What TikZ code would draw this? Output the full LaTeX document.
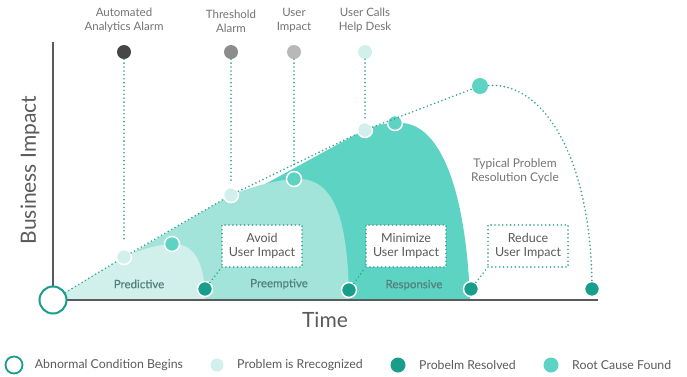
\documentclass[tikz,border=0pt]{standalone}
\usepackage{fontspec}
\setmainfont{Lato}
\newfontfamily\zonefont{Lato}[FakeBold=0.5]
\usetikzlibrary{positioning}
\definecolor{tealdark}{HTML}{1A9E8C}
\definecolor{tealmid}{HTML}{5DD3C3}
\definecolor{teallight}{HTML}{A3E4DA}
\definecolor{tealpale}{HTML}{D2F0EB}
\definecolor{guidecol}{HTML}{35A493}
\definecolor{textgray}{HTML}{5A5A5A}
\definecolor{zonetext}{HTML}{52827D}
\begin{document}
\begin{tikzpicture}[x=1pt, y=-1pt,
    guide/.style={guidecol, line width=1.8pt, line cap=round, dash pattern=on 0pt off 3.9pt},
    dotnode/.style={circle, inner sep=0pt, minimum size=15pt, draw=white, line width=1.5pt},
    topdot/.style={circle, inner sep=0pt, minimum size=14pt},
    toplabel/.style={align=center, font=\fontsize{11.5}{14}\selectfont, text=textgray!85, inner sep=0pt},
    hintbox/.style={draw=guidecol, line width=1.8pt, line cap=round, dash pattern=on 0pt off 3.9pt,
        fill=white, align=center, minimum width=80pt, minimum height=42pt,
        font=\fontsize{12.5}{14.5}\selectfont, text=textgray, inner sep=0pt},
    zone/.style={font=\zonefont\fontsize{11.5}{13}\selectfont, text=zonetext},
    legtext/.style={anchor=west, font=\fontsize{12.3}{14}\selectfont, text=textgray}]
    \useasboundingbox (0,0) rectangle (687,376);

    % Zone di impatto
    \fill[tealmid] (53,300) -- (364,130) .. controls (375,126) and (385,123) .. (395,123)
        .. controls (440,118) and (466,190) .. (470,300) -- cycle;
    \fill[teallight] (53,300) -- (231,195) .. controls (252,187) and (275,180) .. (294,179)
        .. controls (335,176) and (348,220) .. (349,300) -- cycle;
    \fill[tealpale] (53,300) -- (124,257) .. controls (140,250) and (155,245) .. (172,244)
        .. controls (194,243) and (205,262) .. (205,300) -- cycle;

    % Assi
    \draw[textgray, line width=2pt] (53,42) -- (53,300) -- (598,300);
    \node[rotate=90, font=\fontsize{21}{24}\selectfont, text=textgray] (yLabel) at (30,170) {Business Impact};
    \node[font=\fontsize{21}{24}\selectfont, text=textgray] (xLabel) at (325,320) {Time};

    % Punti sulla curva
    \node[circle, draw=tealdark, fill=white, line width=2pt, minimum size=27pt, inner sep=0pt] (start) at (53,300) {};
    \node[dotnode, fill=tealpale] (recA) at (124,257) {};
    \node[dotnode, fill=tealpale] (recB) at (231,195) {};
    \node[dotnode, fill=tealpale] (recC) at (365,130) {};
    \node[dotnode, fill=tealmid] (peakA) at (172,244) {};
    \node[dotnode, fill=tealmid] (peakB) at (294,179) {};
    \node[dotnode, fill=tealmid] (peakC) at (395,123) {};
    \node[dotnode, fill=tealdark] (resA) at (205,289) {};
    \node[dotnode, fill=tealdark] (resB) at (349,290) {};
    \node[dotnode, fill=tealdark] (resC) at (471,289) {};
    \node[dotnode, fill=tealdark] (resD) at (592,289) {};
    \node[dotnode, fill=tealmid, draw=none, minimum size=16pt] (root) at (480,86) {};

    % Ciclo tipico
    \draw[guide] (start) -- (recA) -- (recB) -- (recC) -- (root);
    \draw[guide] (root) .. controls (545,82) and (590,160) .. (resD);
    \node[toplabel, font=\fontsize{12}{14}\selectfont] (cycle) at (515,171) {Typical Problem\\Resolution Cycle};

    % Allarmi in alto
    \node[topdot, fill=black!72] (aaDot) at (124,52) {};
    \node[topdot, fill=black!45] (thDot) at (231,52) {};
    \node[topdot, fill=black!28] (uiDot) at (294,52) {};
    \node[topdot, fill=tealpale] (hdDot) at (365,52) {};
    \node[toplabel, above=12pt of aaDot] (aaText) {Automated\\Analytics Alarm};
    \node[toplabel, above=12pt of thDot] (thText) {Threshold\\Alarm};
    \node[toplabel, above=12pt of uiDot] (uiText) {User\\Impact};
    \node[toplabel, above=12pt of hdDot] (hdText) {User Calls\\Help Desk};
    \draw[guide, shorten >=10pt] (aaDot) -- (recA);
    \draw[guide, shorten >=4pt] (thDot) -- (recB);
    \draw[guide, shorten >=4pt] (uiDot) -- (peakB);
    \draw[guide, shorten >=2pt] (hdDot) -- (recC);

    % Riquadri
    \node[hintbox] (avoid) at (262,246) {Avoid\\User Impact};
    \node[hintbox] (minimize) at (406,246) {Minimize\\User Impact};
    \node[hintbox] (reduce) at (528,246) {Reduce\\User Impact};
    \draw[guide] (resA) -- (avoid.south west);
    \draw[guide] (resB) -- (minimize.south west);
    \draw[guide] (resC) -- (reduce.south west);

    % Nomi delle zone
    \node[zone] (predictive) at (139,284) {Predictive};
    \node[zone] (preemptive) at (279,284) {Preemptive};
    \node[zone] (responsive) at (414,285) {Responsive};

    % Legenda
    \node[circle, draw=tealdark, line width=1.8pt, minimum size=17pt, inner sep=0pt] (legStart) at (14,365) {};
    \node[legtext, right=8pt of legStart] (legStartText) {Abnormal Condition Begins};
    \node[circle, fill=tealpale, minimum size=13pt, inner sep=0pt] (legRec) at (217,365) {};
    \node[legtext, right=10pt of legRec] (legRecText) {Problem is Rrecognized};
    \node[circle, fill=tealdark, minimum size=15pt, inner sep=0pt] (legRes) at (398,365) {};
    \node[legtext, right=10pt of legRes] (legResText) {Probelm Resolved};
    \node[circle, fill=tealmid, minimum size=15pt, inner sep=0pt] (legRoot) at (551,365) {};
    \node[legtext, right=10pt of legRoot] (legRootText) {Root Cause Found};
\end{tikzpicture}
\end{document}
